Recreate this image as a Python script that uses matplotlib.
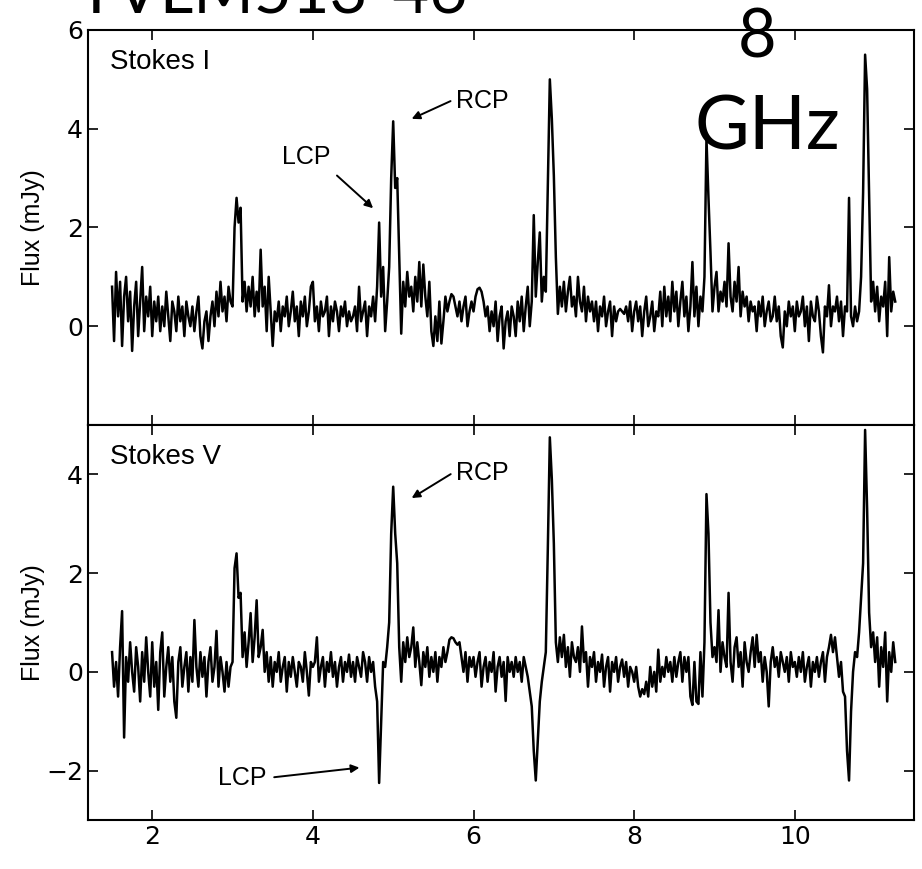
import numpy as np
import matplotlib
matplotlib.use("Agg")
import matplotlib.pyplot as plt

plt.rcParams['font.family'] = ['DejaVu Sans']
label_font = ['Liberation Sans', 'DejaVu Sans']

# time axis (hours), one sample every 0.025
t_start, t_step = 1.5, 0.025

stokes_i = [
    0.8, -0.3, 1.1, 0.2, 0.9, -0.4, 0.6, 1.0, 0.1, 0.7, -0.5, 0.4, 0.9, -0.2, 0.5, 1.2, -0.1, 0.6, 0.2, 0.8,
    -0.2, 0.5, 0.1, 0.6, -0.1, 0.4, 0.0, 0.7, 0.2, -0.3, 0.5, 0.3, -0.1, 0.6, 0.1, 0.4, -0.2, 0.5, 0.2, 0.0,
    0.4, -0.1, 0.3, 0.6, -0.2, -0.45, 0.1, 0.3, -0.3, 0.2, 0.5, 0.0, 0.7, 0.2, 0.9, 0.3, 0.6, 0.1, 0.8, 0.5,
    0.4, 2.0, 2.6, 2.1, 2.4, 0.5, 0.9, 0.3, 0.8, 0.4, 1.0, 0.2, 0.7, 0.3, 1.55, 0.4, 0.8, -0.1, 1.0, 0.3,
    -0.4, 0.3, 0.1, 0.5, -0.1, 0.4, 0.2, 0.6, 0.0, 0.3, 0.7, 0.1, 0.4, -0.2, 0.5, 0.2, 0.6, 0.0, 0.3, 0.8,
    0.9, 0.1, 0.4, -0.1, 0.5, 0.2, 0.3, 0.6, -0.2, 0.4, 0.1, 0.5, 0.3, -0.1, 0.4, 0.2, 0.5, 0.0, 0.3, 0.1,
    0.2, 0.4, -0.1, 0.8, 0.1, 0.3, 0.5, -0.2, 0.4, 0.2, 0.6, 0.1, 0.8, 2.1, 0.6, 1.2, -0.1, 0.5, 1.2, 3.0,
    4.15, 2.8, 3.0, 1.4, -0.15, 0.9, 0.4, 1.1, 0.6, 0.8, 0.3, 1.0, 0.5, 1.3, 0.4, 1.25, 0.6, 0.2, 0.9, -0.1,
    -0.4, 0.2, -0.3, 0.5, -0.35, 0.1, 0.6, 0.3, 0.5, 0.65, 0.6, 0.4, 0.2, 0.5, 0.1, 0.4, 0.6, 0.0, 0.3, 0.5,
    0.3, 0.6, 0.75, 0.78, 0.7, 0.5, 0.2, 0.4, -0.1, 0.3, 0.0, 0.5, -0.3, 0.2, 0.4, -0.45, 0.1, 0.3, -0.2, 0.4,
    0.2, -0.2, 0.5, 0.1, 0.6, -0.1, 0.4, 0.8, 0.0, 0.5, 2.25, 0.6, 1.3, 1.9, 0.5, 1.0, 0.7, 2.8, 5.0, 4.2,
    3.05, 1.4, 0.25, 0.8, 0.4, 0.9, 0.3, 0.7, 1.0, 0.4, 0.6, 0.2, 1.0, 0.5, 0.3, 0.8, 0.1, 0.6, 0.3, 0.5,
    0.1, 0.5, -0.1, 0.4, 0.2, 0.6, 0.0, 0.3, 0.5, -0.2, 0.4, 0.1, 0.3, 0.35, 0.3, 0.25, 0.4, 0.1, 0.5, -0.1,
    0.3, 0.5, 0.1, 0.4, -0.2, 0.3, 0.6, 0.0, 0.2, 0.5, -0.1, 0.3, 0.2, 0.7, 0.0, 0.8, 0.2, 0.6, 0.1, 0.9,
    0.3, 0.7, 0.0, 0.5, 0.9, 0.2, 0.6, -0.1, 0.4, 1.3, 0.2, 0.8, 0.0, 0.6, 0.3, 1.0, 3.8, 2.6, 1.5, 0.3,
    0.8, 1.1, 0.3, 0.7, 0.5, 0.9, 0.4, 1.68, 0.6, 0.3, 0.9, 0.5, 1.2, 0.2, 0.7, 0.4, 0.6, 0.1, 0.5, 0.3,
    0.4, -0.1, 0.5, 0.2, 0.6, 0.0, 0.3, 0.5, 0.1, 0.2, 0.6, 0.1, 0.4, -0.2, -0.43, 0.3, 0.0, 0.5, 0.2, 0.4,
    -0.1, 0.5, 0.2, 0.3, 0.6, 0.0, 0.4, -0.3, 0.5, 0.2, 0.1, 0.6, 0.3, -0.2, -0.53, 0.4, 0.2, 0.83, 0.0, 0.4,
    0.3, 0.6, 0.1, 0.5, -0.2, 0.4, 0.3, 2.6, 0.2, 0.0, 0.4, 0.1, 0.3, 1.0, 2.7, 5.5, 4.8, 2.6, 0.5, 0.9,
    0.3, 0.8, 0.1, 0.6, 0.4, 0.9, -0.2, 1.4, 0.3, 0.7, 0.5,
]

stokes_v = [
    0.4, -0.3, 0.2, -0.5, 0.5, 1.23, -1.33, 0.3, -0.2, 0.6, 0.0, -0.4, 0.5, 0.1, -0.6, 0.4, -0.2, 0.7, 0.0, -0.5,
    0.6, -0.3, 0.2, -0.77, 0.4, 0.8, -0.5, 0.1, 0.5, -0.2, 0.3, -0.6, -0.93, 0.2, 0.5, -0.3, 0.1, 0.4, -0.4, 0.3,
    -0.2, 1.05, 0.1, -0.3, 0.4, -0.1, 0.3, -0.5, 0.2, 0.5, -0.2, 0.1, 0.83, -0.3, 0.3, 0.0, -0.4, 0.2, -0.3, 0.1,
    0.2, 2.1, 2.4, 1.5, 1.6, 0.3, 0.8, 0.1, 0.6, 1.19, 0.2, 0.7, 1.45, 0.3, 0.5, 0.85, 0.0, 0.4, -0.2, 0.3,
    -0.3, 0.2, 0.0, 0.4, -0.2, 0.1, 0.3, -0.4, 0.2, -0.1, 0.3, 0.0, -0.3, 0.2, 0.1, -0.2, 0.4, 0.0, -0.48, 0.2,
    0.1, 0.2, 0.7, -0.2, 0.1, 0.3, -0.3, 0.2, 0.0, 0.4, -0.1, 0.2, -0.3, 0.1, 0.3, -0.2, 0.2, 0.0, 0.35, -0.1,
    0.2, -0.2, 0.3, 0.1, -0.1, 0.4, 0.2, -0.2, 0.3, 0.0, 0.2, -0.3, -0.6, -2.25, -1.0, 0.2, 0.1, 0.5, 1.0, 2.8,
    3.75, 2.8, 2.2, 0.5, -0.2, 0.6, 0.2, 0.7, 0.3, 0.5, 0.9, 0.1, 0.6, 0.2, -0.27, 0.4, 0.1, 0.5, -0.1, 0.3,
    0.0, 0.4, -0.2, 0.3, 0.1, 0.5, 0.2, 0.4, 0.65, 0.7, 0.68, 0.6, 0.55, 0.6, 0.3, 0.0, 0.4, -0.2, 0.3, 0.1,
    0.3, -0.1, 0.2, 0.4, -0.3, 0.1, 0.3, -0.2, 0.2, 0.0, 0.4, -0.4, 0.1, 0.3, -0.1, 0.2, -0.59, 0.3, 0.0, 0.2,
    -0.1, 0.3, 0.0, 0.2, -0.2, 0.3, 0.1, -0.1, -0.4, -0.7, -1.6, -2.2, -1.4, -0.6, -0.2, 0.1, 0.4, 2.5, 4.75, 3.9,
    2.6, 0.6, 0.2, 0.7, 0.3, 0.75, 0.1, 0.5, -0.1, 0.6, 0.3, 0.2, 0.5, 0.0, 0.92, 0.2, 0.4, -0.3, 0.3, 0.1,
    0.4, -0.2, 0.2, 0.0, 0.35, -0.3, 0.1, 0.3, -0.4, 0.2, 0.0, 0.3, -0.2, 0.1, 0.25, -0.1, 0.2, -0.3, 0.1, 0.0,
    -0.2, 0.1, -0.3, -0.5, -0.35, -0.45, -0.2, -0.5, 0.1, -0.3, 0.0, -0.4, 0.45, -0.2, 0.1, -0.1, 0.3, 0.0, 0.2, -0.2,
    0.3, -0.1, 0.2, 0.4, -0.2, 0.3, 0.0, 0.3, -0.5, -0.67, 0.2, -0.6, -0.65, 0.4, -0.5, 0.6, 3.6, 2.8, 1.0, 0.3,
    0.5, 0.2, 1.25, 0.0, 0.6, 0.3, 0.1, 1.6, 0.2, -0.2, 0.5, 0.7, 0.1, 0.4, -0.3, 0.6, 0.2, 0.0, 0.4, 0.7,
    0.1, 0.75, 0.2, 0.4, -0.2, 0.3, 0.0, -0.7, 0.2, 0.5, 0.1, 0.3, -0.1, 0.4, 0.2, 0.0, 0.3, -0.2, 0.4, 0.1,
    0.2, -0.1, 0.3, 0.0, 0.4, -0.2, 0.1, 0.3, -0.3, 0.2, 0.0, 0.3, -0.1, 0.2, 0.4, -0.2, 0.3, 0.5, 0.75, 0.4,
    0.7, 0.3, -0.1, 0.2, -0.4, -0.5, -1.6, -2.2, -0.8, 0.0, 0.4, 0.3, 0.8, 1.5, 2.2, 4.9, 3.3, 1.2, 0.5, 0.8,
    0.2, 0.7, -0.3, 0.5, 0.1, 0.8, -0.6, 0.4, 0.0, 0.6, 0.2,
]

t = t_start + t_step * np.arange(len(stokes_i))

fig = plt.figure(figsize=(9.22, 8.69), dpi=100)
gs = fig.add_gridspec(2, 1, left=0.0954, right=0.991, bottom=0.0564, top=0.9655, hspace=0)
ax1 = fig.add_subplot(gs[0])
ax2 = fig.add_subplot(gs[1], sharex=ax1)

for ax, y in [(ax1, stokes_i), (ax2, stokes_v)]:
    ax.plot(t, y, color='black', lw=1.8)
    ax.set_ylabel("Flux (mJy)", fontsize=18, family=label_font)
    ax.tick_params(direction='in', length=7, width=1.2, top=True, right=True,
                   labelsize=18)
    for s in ax.spines.values():
        s.set_linewidth(1.5)
    ax.yaxis.set_label_coords(-0.052, 0.5)

ax1.set_xlim(1.2, 11.48)
ax1.set_ylim(-2, 6)
ax1.set_yticks([0, 2, 4, 6])
ax2.set_ylim(-3, 5)
ax2.set_yticks([-2, 0, 2, 4])
ax2.set_xticks([2, 4, 6, 8, 10])
ax1.tick_params(labelbottom=False)

arr = dict(arrowstyle='-|>', color='black', lw=1.4, mutation_scale=12, shrinkA=2, shrinkB=0)

ax1.text(1.48, 5.35, "Stokes I", fontsize=20, va='center', ha='left', family=label_font)
ax1.annotate("RCP", xy=(5.23, 4.2), xytext=(5.78, 4.56), fontsize=18, va='center', ha='left',
             family=label_font, arrowprops=dict(arr, relpos=(0, 0.6)))
ax1.annotate("LCP", xy=(4.75, 2.39), xytext=(3.61, 3.43), fontsize=18, va='center', ha='left',
             family=label_font, arrowprops=dict(arr, relpos=(1.1, -0.2)))

ax2.text(1.48, 4.36, "Stokes V", fontsize=20, va='center', ha='left', family=label_font)
ax2.annotate("RCP", xy=(5.23, 3.52), xytext=(5.78, 4.02), fontsize=18, va='center', ha='left',
             family=label_font, arrowprops=dict(arr, relpos=(0, 0.6)))
ax2.annotate("LCP", xy=(4.58, -1.94), xytext=(2.82, -2.14), fontsize=18, va='center', ha='left',
             family=label_font, arrowprops=dict(arr, relpos=(1.1, 0.5)))

# overlay labels from the slide
fig.text(77 / 922, 1 - 14 / 869, "TVLM513-46", fontsize=47, family='Lato',
         ha='left', va='baseline')
fig.text(757 / 922, 1 - 58 / 869, "8", fontsize=48, family='Lato', ha='center', va='baseline')
fig.text(767 / 922, 1 - 150 / 869, "GHz", fontsize=54, family='Lato', ha='center', va='baseline')

fig.savefig("out.png", dpi=100)
